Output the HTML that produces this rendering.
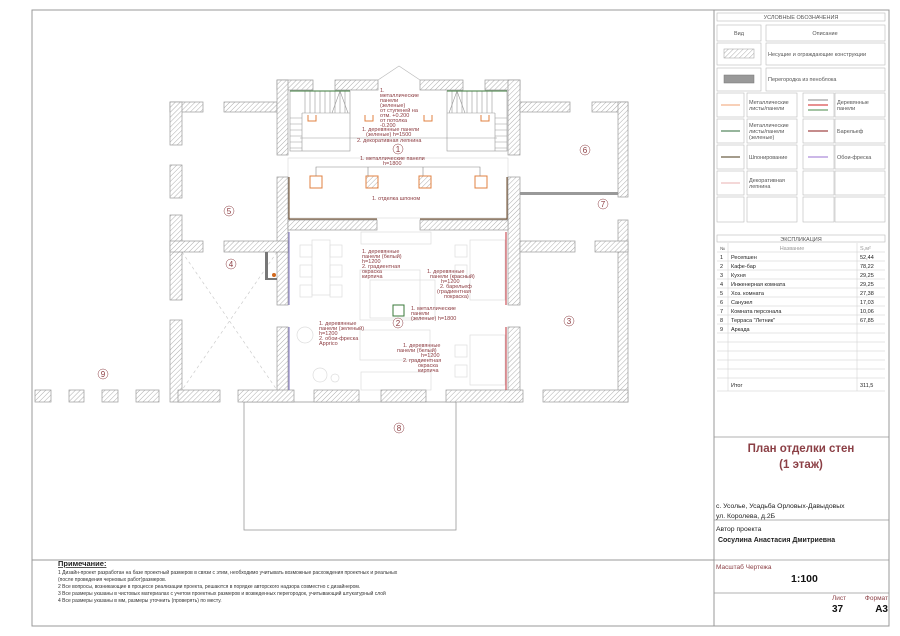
<!DOCTYPE html>
<html><head><meta charset="utf-8"><style>
html,body{margin:0;padding:0;background:#fff;}
svg{display:block;font-family:"Liberation Sans",sans-serif;}
.t{fill:#8b3a3f;font-size:5.5px;}
.lg{fill:#555;font-size:5.5px;}
.n{fill:#8b3a3f;font-size:8px;text-anchor:middle;}
</style></head><body>
<svg width="900" height="636" viewBox="0 0 900 636" xmlns="http://www.w3.org/2000/svg">
<defs>
<pattern id="h" width="3.5" height="3.5" patternUnits="userSpaceOnUse" patternTransform="rotate(45)">
<rect width="3.5" height="3.5" fill="#fff"/><line x1="0" y1="0" x2="0" y2="3.5" stroke="#999" stroke-width="0.8"/>
</pattern>
</defs>
<rect width="900" height="636" fill="#fff"/>
<rect x="32" y="10" width="857" height="616" fill="none" stroke="#999" stroke-width="1"/>
<line x1="714" y1="10" x2="714" y2="626" stroke="#999"/>
<line x1="32" y1="560" x2="714" y2="560" stroke="#999"/>

<g stroke="#ddd" fill="none" stroke-width="0.7">
<rect x="300" y="245" width="12" height="12"/><rect x="300" y="265" width="12" height="12"/><rect x="300" y="285" width="12" height="12"/>
<rect x="330" y="245" width="12" height="12"/><rect x="330" y="265" width="12" height="12"/><rect x="330" y="285" width="12" height="12"/>
<rect x="312" y="240" width="18" height="55"/>
<rect x="360" y="270" width="60" height="50"/><rect x="370" y="280" width="65" height="38"/>
<rect x="455" y="245" width="12" height="12"/><rect x="455" y="265" width="12" height="12"/><rect x="470" y="240" width="35" height="60"/>
<rect x="455" y="345" width="12" height="12"/><rect x="455" y="365" width="12" height="12"/><rect x="470" y="335" width="35" height="50"/>
<circle cx="305" cy="335" r="8"/><circle cx="320" cy="375" r="7"/><circle cx="335" cy="378" r="4"/>
<rect x="360" y="330" width="70" height="30"/>
<rect x="361" y="232" width="70" height="12"/>
<rect x="361" y="372" width="70" height="18"/>
<rect x="288" y="158" width="220" height="60"/>
</g>
<g stroke="#ccc" stroke-dasharray="3,3" stroke-width="0.7">
<line x1="182" y1="252" x2="277" y2="390"/><line x1="277" y1="252" x2="182" y2="390"/>
</g>
<rect x="244" y="402" width="212" height="128" fill="none" stroke="#999" stroke-width="0.8"/>

<g fill="url(#h)" stroke="#999" stroke-width="0.7">
<rect x="170" y="102" width="33" height="10"/><rect x="224" y="102" width="53" height="10"/>
<rect x="170" y="102" width="12" height="43"/><rect x="170" y="165" width="12" height="33"/><rect x="170" y="215" width="12" height="85"/><rect x="170" y="320" width="12" height="82"/>
<rect x="277" y="80" width="36" height="10"/><rect x="335" y="80" width="43" height="10"/><rect x="420" y="80" width="43" height="10"/><rect x="485" y="80" width="35" height="10"/>
<rect x="277" y="80" width="11" height="75"/><rect x="277" y="177" width="11" height="128"/><rect x="277" y="327" width="11" height="75"/>
<rect x="508" y="80" width="12" height="75"/><rect x="508" y="177" width="12" height="128"/><rect x="508" y="327" width="12" height="75"/>
<rect x="520" y="102" width="50" height="10"/><rect x="592" y="102" width="36" height="10"/>
<rect x="618" y="102" width="10" height="95"/><rect x="618" y="220" width="10" height="182"/>
<rect x="288" y="220" width="89" height="10"/><rect x="420" y="220" width="88" height="10"/>
<rect x="170" y="241" width="33" height="11"/><rect x="224" y="241" width="64" height="11"/>
<rect x="520" y="241" width="55" height="11"/><rect x="595" y="241" width="33" height="11"/>
<rect x="136" y="390" width="23" height="12"/><rect x="178" y="390" width="42" height="12"/><rect x="238" y="390" width="56" height="12"/><rect x="314" y="390" width="45" height="12"/><rect x="381" y="390" width="45" height="12"/><rect x="446" y="390" width="77" height="12"/><rect x="543" y="390" width="85" height="12"/>
<rect x="35" y="390" width="16" height="12"/><rect x="69" y="390" width="15" height="12"/><rect x="102" y="390" width="16" height="12"/>
</g>
<rect x="520" y="192" width="98" height="3" fill="#999"/>
<rect x="265" y="252" width="3" height="28" fill="#777"/><rect x="265" y="278" width="12" height="2" fill="#777"/>
<circle cx="274" cy="275" r="2" fill="#d2691e"/>
<polyline points="378,80 399,66 420,80" fill="none" stroke="#bbb" stroke-width="0.7"/>

<g stroke="#999" stroke-width="0.6" fill="none">
<rect x="290" y="91" width="60" height="60"/><rect x="447" y="91" width="60" height="60"/>
<path d="M305 91v22M310 91v22M315 91v22M320 91v22M325 91v22M330 91v22M335 91v22M340 91v22M345 91v22"/>
<path d="M452 91v22M457 91v22M462 91v22M467 91v22M472 91v22M477 91v22M482 91v22M487 91v22M492 91v22"/>
<path d="M290 118h12M290 124h12M290 130h12M290 136h12M290 142h12M290 148h12"/>
<path d="M495 118h12M495 124h12M495 130h12M495 136h12M495 142h12M495 148h12"/>
<path d="M302 113v38M495 113v38M302 113h48M447 113h48"/>
<path d="M340 91l-8 22M340 91l8 22M457 91l-8 22M457 91l8 22"/>
<line x1="300" y1="138" x2="497" y2="138"/>
</g>
<g stroke="#3a7a3a" stroke-width="1"><line x1="290" y1="91" x2="350" y2="91"/><line x1="447" y1="91" x2="507" y2="91"/></g>
<g stroke="#e08040" stroke-width="1" fill="none">
<path d="M308 115v6h8v-6M365 115v6h8v-6M424 115v6h8v-6M481 115v6h8v-6"/>
<rect x="310" y="176" width="12" height="12"/><rect x="366" y="176" width="12" height="12" fill="url(#h)"/><rect x="419" y="176" width="12" height="12" fill="url(#h)"/><rect x="475" y="176" width="12" height="12"/>
</g>
<g stroke="#888" stroke-width="0.6" fill="none">
<path d="M316 176v-9h164v9M368 167v9M423 167v9"/>
</g>
<g stroke="#6b4a2a" stroke-width="1" fill="none"><path d="M289 177v42h88M507 177v42h-87"/></g>
<g stroke="#7b6fbf" stroke-width="1" fill="none"><path d="M289 232v73M289 327v63"/></g>
<g stroke="#c0303a" stroke-width="1" fill="none"><path d="M506 232v73M506 327v63"/></g>
<rect x="393" y="305" width="11" height="11" fill="none" stroke="#3a7a3a" stroke-width="1"/>

<g class="t">
<text x="380" y="92">1.</text><text x="380" y="97">металлические</text><text x="380" y="102">панели</text><text x="380" y="107">(зеленые)</text><text x="380" y="112">от ступеней на</text><text x="380" y="117">отм. +0.200</text><text x="380" y="122">от потолка</text><text x="380" y="127">-0.200</text>
<text x="362" y="131">1. деревянные панели</text><text x="366" y="136">(зеленые) h=1500</text><text x="357" y="142">2. декоративная лепнина</text>
<text x="360" y="160">1. металлические панели</text><text x="383" y="165">h=1800</text>
<text x="372" y="200">1. отделка шпоном</text>
<text x="362" y="253">1. деревянные</text><text x="362" y="258">панели (белый)</text><text x="362" y="263">h=1200</text><text x="362" y="268">2. градиентная</text><text x="362" y="273">окраска</text><text x="362" y="278">кирпича</text>
<text x="427" y="273">1. деревянные</text><text x="430" y="278">панели (красный)</text><text x="441" y="283">h=1200</text><text x="440" y="288">2. барельеф</text><text x="437" y="293">(градиентная</text><text x="444" y="298">покраска)</text>
<text x="411" y="310">1. металлические</text><text x="411" y="315">панели</text><text x="411" y="320">(зеленые) h=1800</text>
<text x="319" y="325">1. деревянные</text><text x="319" y="330">панели (зеленый)</text><text x="319" y="335">h=1200</text><text x="319" y="340">2. обои-фреска</text><text x="319" y="345">Apprico</text>
<text x="403" y="347">1. деревянные</text><text x="397" y="352">панели (белый)</text><text x="421" y="357">h=1200</text><text x="403" y="362">2. градиентная</text><text x="418" y="367">окраска</text><text x="418" y="372">кирпича</text>
</g>
<g fill="#fff" stroke="#8b3a3f" stroke-width="0.5">
<circle cx="398" cy="149" r="5"/><circle cx="398" cy="323" r="5"/><circle cx="569" cy="321" r="5"/><circle cx="231" cy="264" r="5"/><circle cx="229" cy="211" r="5"/><circle cx="585" cy="150" r="5"/><circle cx="603" cy="204" r="5"/><circle cx="399" cy="428" r="5"/><circle cx="103" cy="374" r="5"/>
</g>
<g class="n">
<text x="398" y="152">1</text><text x="398" y="326">2</text><text x="569" y="324">3</text><text x="231" y="267">4</text><text x="229" y="214">5</text><text x="585" y="153">6</text><text x="603" y="207">7</text><text x="399" y="431">8</text><text x="103" y="377">9</text>
</g>

<g fill="none" stroke="#bbb" stroke-width="0.6">
<rect x="717" y="13" width="168" height="8"/>
<rect x="717" y="25" width="44" height="16"/><rect x="766" y="25" width="119" height="16"/>
<rect x="717" y="43" width="44" height="22"/><rect x="766" y="43" width="119" height="22"/>
<rect x="717" y="68" width="44" height="23"/><rect x="766" y="68" width="119" height="23"/>
<rect x="717" y="93" width="27" height="24"/><rect x="747" y="93" width="50" height="24"/><rect x="803" y="93" width="31" height="24"/><rect x="835" y="93" width="50" height="24"/>
<rect x="717" y="119" width="27" height="24"/><rect x="747" y="119" width="50" height="24"/><rect x="803" y="119" width="31" height="24"/><rect x="835" y="119" width="50" height="24"/>
<rect x="717" y="145" width="27" height="24"/><rect x="747" y="145" width="50" height="24"/><rect x="803" y="145" width="31" height="24"/><rect x="835" y="145" width="50" height="24"/>
<rect x="717" y="171" width="27" height="24"/><rect x="747" y="171" width="50" height="24"/><rect x="803" y="171" width="31" height="24"/><rect x="835" y="171" width="50" height="24"/>
<rect x="717" y="197" width="27" height="25"/><rect x="747" y="197" width="50" height="25"/><rect x="803" y="197" width="31" height="25"/><rect x="835" y="197" width="50" height="25"/>
</g>
<rect x="724" y="49" width="30" height="9" fill="url(#h)" stroke="#999" stroke-width="0.5"/>
<rect x="724" y="75" width="30" height="8" fill="#999" stroke="#777" stroke-width="0.5"/>
<line x1="721" y1="105" x2="740" y2="105" stroke="#f0a070"/>
<line x1="721" y1="131" x2="740" y2="131" stroke="#2e6b3a"/>
<line x1="721" y1="157" x2="740" y2="157" stroke="#4a3a1a"/>
<line x1="721" y1="183" x2="740" y2="183" stroke="#e8b0b0"/>
<line x1="808" y1="100" x2="828" y2="100" stroke="#888"/><line x1="808" y1="105" x2="828" y2="105" stroke="#d02020"/><line x1="808" y1="110" x2="828" y2="110" stroke="#4a8a4a"/>
<line x1="808" y1="131" x2="828" y2="131" stroke="#8b1a1a"/>
<line x1="808" y1="157" x2="828" y2="157" stroke="#9a70d0"/>
<g class="lg">
<text x="801" y="19" text-anchor="middle">УСЛОВНЫЕ ОБОЗНАЧЕНИЯ</text>
<text x="739" y="35" text-anchor="middle">Вид</text><text x="825" y="35" text-anchor="middle">Описание</text>
<text x="768" y="56">Несущие и ограждающие конструкции</text>
<text x="768" y="81">Перегородка из пеноблока</text>
<text x="749" y="104">Металлические</text><text x="749" y="110">листы/панели</text>
<text x="749" y="127">Металлические</text><text x="749" y="133">листы/панели</text><text x="749" y="139">(зеленые)</text>
<text x="749" y="159">Шпонирование</text>
<text x="749" y="182">Декоративная</text><text x="749" y="188">лепнина</text>
<text x="837" y="104">Деревянные</text><text x="837" y="110">панели</text>
<text x="837" y="133">Барельеф</text>
<text x="837" y="159">Обои-фреска</text>
</g>

<rect x="717" y="235" width="168" height="7" fill="none" stroke="#bbb" stroke-width="0.6"/>
<g stroke="#ccc" stroke-width="0.5">
<line x1="717" y1="252" x2="885" y2="252"/><line x1="717" y1="261" x2="885" y2="261"/><line x1="717" y1="270" x2="885" y2="270"/><line x1="717" y1="279" x2="885" y2="279"/><line x1="717" y1="288" x2="885" y2="288"/><line x1="717" y1="297" x2="885" y2="297"/><line x1="717" y1="306" x2="885" y2="306"/><line x1="717" y1="315" x2="885" y2="315"/><line x1="717" y1="324" x2="885" y2="324"/><line x1="717" y1="333" x2="885" y2="333"/><line x1="717" y1="342" x2="885" y2="342"/><line x1="717" y1="351" x2="885" y2="351"/><line x1="717" y1="360" x2="885" y2="360"/><line x1="717" y1="369" x2="885" y2="369"/><line x1="717" y1="378" x2="885" y2="378"/><line x1="717" y1="391" x2="885" y2="391"/>
<line x1="728" y1="243" x2="728" y2="391"/><line x1="857" y1="243" x2="857" y2="391"/>
</g>
<g class="lg">
<text x="801" y="241" text-anchor="middle">ЭКСПЛИКАЦИЯ</text>
<text x="720" y="250" font-size="4.5">№</text><text x="792" y="250" text-anchor="middle" fill="#999">Название</text><text x="860" y="250" fill="#999">S,м²</text>
</g>
<g font-size="5.5" fill="#222">
<text x="720" y="259">1</text><text x="731" y="259">Ресепшен</text><text x="860" y="259">52,44</text>
<text x="720" y="268">2</text><text x="731" y="268">Кафе-бар</text><text x="860" y="268">78,22</text>
<text x="720" y="277">3</text><text x="731" y="277">Кухня</text><text x="860" y="277">29,25</text>
<text x="720" y="286">4</text><text x="731" y="286">Инженерная комната</text><text x="860" y="286">29,25</text>
<text x="720" y="295">5</text><text x="731" y="295">Хоз. комната</text><text x="860" y="295">27,38</text>
<text x="720" y="304">6</text><text x="731" y="304">Санузел</text><text x="860" y="304">17,03</text>
<text x="720" y="313">7</text><text x="731" y="313">Комната персонала</text><text x="860" y="313">10,06</text>
<text x="720" y="322">8</text><text x="731" y="322">Терраса "Летник"</text><text x="860" y="322">67,85</text>
<text x="720" y="331">9</text><text x="731" y="331">Аркада</text>
<text x="731" y="387">Итог</text><text x="860" y="387">311,5</text>
</g>

<g stroke="#999" stroke-width="0.8">
<line x1="714" y1="437" x2="889" y2="437"/><line x1="714" y1="520" x2="889" y2="520"/><line x1="714" y1="560" x2="889" y2="560"/><line x1="714" y1="593" x2="889" y2="593"/>
</g>
<text x="801" y="452" text-anchor="middle" font-size="11.5" font-weight="bold" fill="#8b3f45">План отделки стен</text>
<text x="801" y="468" text-anchor="middle" font-size="11.5" font-weight="bold" fill="#8b3f45">(1 этаж)</text>
<text x="716" y="508" font-size="6.8" fill="#222">с. Усолье, Усадьба Орловых-Давыдовых</text>
<text x="716" y="518" font-size="6.8" fill="#222">ул. Королева, д.2Б</text>
<text x="716" y="531" font-size="6.8" fill="#222">Автор проекта</text>
<text x="718" y="542" font-size="7" font-weight="bold" fill="#222">Сосулина Анастасия Дмитриевна</text>
<text x="716" y="569" font-size="6.5" fill="#8b3f45">Масштаб Чертежа</text>
<text x="791" y="582" font-size="10.5" font-weight="bold" fill="#111">1:100</text>
<text x="832" y="600" font-size="6.5" fill="#8b3f45">Лист</text>
<text x="832" y="612" font-size="10" font-weight="bold" fill="#111">37</text>
<text x="888" y="600" font-size="6.5" fill="#8b3f45" text-anchor="end">Формат</text>
<text x="888" y="612" font-size="10" font-weight="bold" fill="#111" text-anchor="end">А3</text>

<text x="58" y="566" font-size="7.5" font-weight="bold" fill="#222" text-decoration="underline">Примечание:</text>
<g font-size="5" fill="#333">
<text x="58" y="574">1 Дизайн-проект разработан на базе проектный размеров в связи с этим, необходимо учитывать возможные расхождения проектных и реальных</text>
<text x="58" y="581">(после проведения черновых работ)размеров.</text>
<text x="58" y="588">2 Все вопросы, возникающие в процессе реализации проекта, решаются в порядке авторского надзора совместно с дизайнером.</text>
<text x="58" y="595">3 Все размеры указаны в чистовых материалах с учетом проектных размеров и возведенных перегородок, учитывающий штукатурный слой</text>
<text x="58" y="602">4 Все размеры указаны в мм, размеры уточнить (проверять) по месту.</text>
</g>
</svg>
</body></html>
